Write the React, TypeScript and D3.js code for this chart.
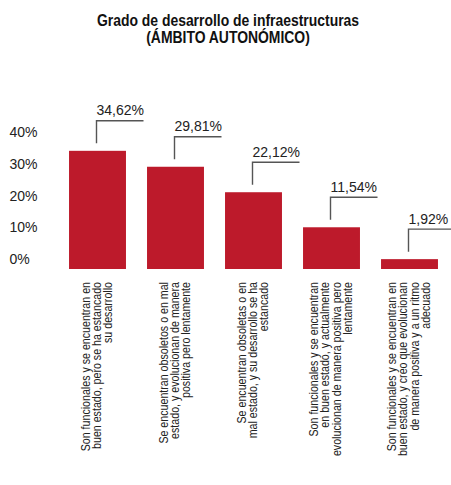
import React from "react";
import * as d3 from "d3";

const titleLines = ["Grado de desarrollo de infraestructuras", "(ÁMBITO AUTONÓMICO)"];
const categories = ["c1", "c2", "c3", "c4", "c5"];
const categoryLabels: string[][] = [
  ["Son funcionales y se encuentran en", "buen estado, pero se ha estancado", "su desarrollo"],
  ["Se encuentran obsoletos o en mal", "estado, y evolucionan de manera", "positiva pero lentamente"],
  ["Se encuentran obsoletas o en", "mal estado, y su desarrollo se ha", "estancado"],
  ["Son funcionales y se encuentran", "en buen estado, y actualmente", "evolucionan de manera positiva pero", "lentamente"],
  ["Son funcionales y se encuentran en", "buen estado, y creo que evolucionan", "de manera positiva y a un ritmo", "adecuado"],
];
const values = [34.62, 29.81, 22.12, 11.54, 1.92];
const valueLabels = ["34,62%", "29,81%", "22,12%", "11,54%", "1,92%"];
const tickValues = [0, 10, 20, 30, 40];
const tickLabels = ["0%", "10%", "20%", "30%", "40%"];

const W = 451;
const H = 485;
const baseY = 269;
const RED = "#BD1A2B";
const REG = "'Liberation Sans', Arial, sans-serif";

export default function App() {
  const x = d3.scaleBand<string>().domain(categories).range([58.5, 448.5]).paddingInner(0.27).paddingOuter(0.135);
  const y = d3.scaleLinear().domain([0, 40]).range([265.5, 133]);
  const yTick = d3.scaleLinear().domain([0, 40]).range([264, 137.3]);
  const lh = 11.4;

  return (
    <svg width={W} height={H} style={{ position: "absolute", left: 0, top: 0, background: "#fff" }}>
      <g fontFamily={REG} fontWeight="bold" fontSize={16} fill="#111" textAnchor="middle">
        {titleLines.map((t, i) => (
          <text key={i} transform={`translate(228,${26 + i * 17}) scale(0.87,1)`}>{t}</text>
        ))}
      </g>
      <g fontFamily={REG} fontSize={14} fill="#222">
        {tickValues.map((v, i) => (
          <text key={i} x={9.5} y={yTick(v)}>{tickLabels[i]}</text>
        ))}
      </g>
      {categories.map((c, i) => {
        const bx = x(c)!;
        const cx = bx + x.bandwidth() / 2;
        const top = y(values[i]);
        const lineTop = top - 30;
        return (
          <g key={c}>
            <rect x={bx} y={top} width={x.bandwidth()} height={baseY - top} fill={RED} />
            <path d={`M${cx - 1},${top - 7.5}V${lineTop}H${cx + 46}`} fill="none" stroke="#555" strokeWidth={1.4} />
            <text x={cx - 1} y={lineTop - 5.5} fontFamily={REG} fontSize={14} fill="#222">{valueLabels[i]}</text>
            <g transform={`translate(${cx},282) rotate(-90) scale(0.82,1)`} fontFamily={REG} fontSize={13} fill="#222" textAnchor="end">
              {categoryLabels[i].map((t, j) => (
                <text key={j} x={0} y={(j - (categoryLabels[i].length - 1) / 2) * lh + 3.5}>{t}</text>
              ))}
            </g>
          </g>
        );
      })}
    </svg>
  );
}
